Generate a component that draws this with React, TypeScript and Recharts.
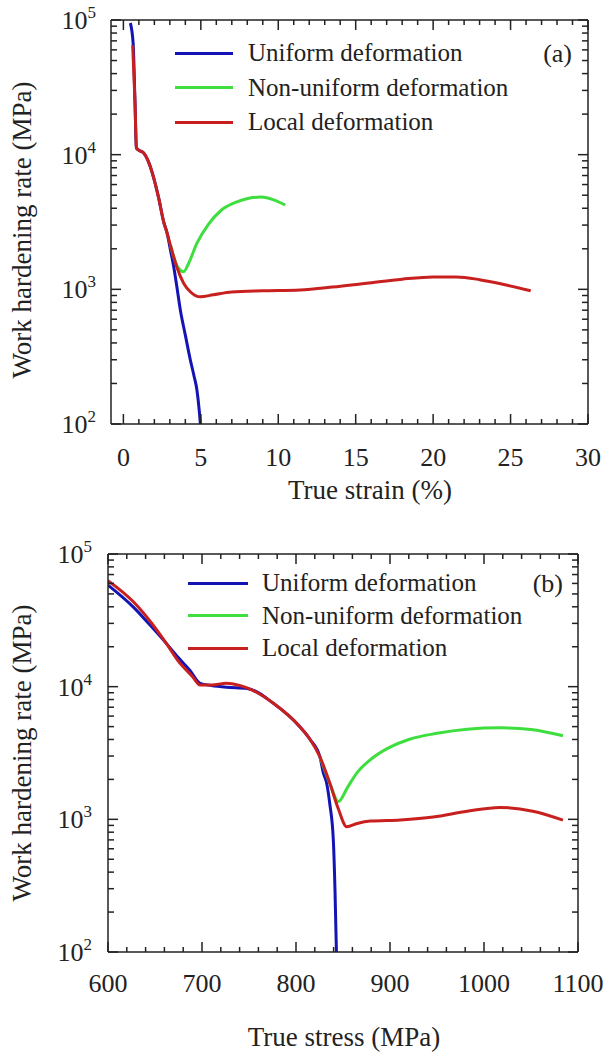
import {
  LineChart,
  Line,
  XAxis,
  YAxis,
  Legend,
  ReferenceLine,
  Customized,
} from 'recharts';

// ---- (a) work hardening rate vs true strain (%) ----
const uniStrainA = [0.45, 0.63, 0.75, 0.84, 0.99, 1.31, 1.63, 1.96, 2.28, 2.6, 2.82, 3.05, 3.25, 3.45, 3.68, 4.0, 4.32, 4.55, 4.75, 4.9, 4.97];
const uniRateA = [95000, 67000, 24500, 11200, 10800, 10300, 8800, 6700, 4750, 3170, 2620, 1930, 1470, 1050, 700, 457, 300, 230, 178, 125, 100];

const nonStrainA = [3.05, 3.25, 3.46, 3.7, 3.89, 4.2, 4.75, 5.5, 6.3, 7.2, 8.1, 8.9, 9.7, 10.45];
const nonRateA = [2100, 1740, 1500, 1380, 1350, 1550, 2200, 3050, 3850, 4400, 4750, 4840, 4620, 4230];

const locStrainA = [0.6, 0.75, 0.84, 0.99, 1.31, 1.63, 1.96, 2.28, 2.6, 2.82, 3.05, 3.25, 3.46, 3.89, 4.32, 4.97, 5.8, 7.0, 9.0, 11.4, 13.5, 15.7, 18.0, 20.0, 21.5, 23.0, 24.5, 26.3];
const locRateA = [65000, 24500, 11200, 10800, 10300, 8800, 6700, 4750, 3170, 2620, 2100, 1740, 1450, 1110, 960, 880, 910, 955, 975, 990, 1040, 1110, 1190, 1235, 1235, 1180, 1090, 975];

// ---- (b) work hardening rate vs true stress (MPa) ----
const uniStressB = [600, 627, 645, 662, 675, 687, 698, 710, 726, 748, 776, 804, 815, 825.5, 829, 832.6, 836, 839.7, 841.5, 843];
const uniRateB = [58300, 39800, 29000, 21200, 16500, 13300, 10600, 10200, 9900, 9700, 7480, 4990, 4000, 2950, 2250, 1870, 1300, 700, 290, 100];

const nonStressB = [825.5, 836, 845, 855, 865, 880, 900, 920, 950, 982, 1017, 1050, 1084];
const nonRateB = [2950, 1870, 1360, 1750, 2250, 2850, 3500, 4000, 4450, 4780, 4900, 4750, 4270];

const locStressB = [600, 627, 645, 662, 675, 690, 698, 710, 726, 740, 748, 776, 804, 815, 825.5, 836, 845, 854, 865, 879, 911, 946, 982, 1017, 1052, 1084];
const locRateB = [63000, 43600, 31000, 21200, 15500, 11900, 10300, 10300, 10600, 10200, 9800, 7500, 5000, 4000, 2950, 1870, 1200, 880, 930, 970, 990, 1040, 1150, 1230, 1150, 985];

// ---- ticks ----
const strainMajor = [0, 5, 10, 15, 20, 25, 30];
const strainTicks = Array.from({ length: 31 }, (_, i) => i);
const stressMajor = [600, 700, 800, 900, 1000, 1100];
const stressTicks = Array.from({ length: 26 }, (_, i) => 600 + i * 20);
const rateMajor = [100, 1000, 10000, 100000];
const rateTicks = [1, 2, 3, 4, 5, 6, 7, 8, 9]
  .flatMap((m) => [m * 100, m * 1000, m * 10000])
  .concat([100000])
  .sort((a, b) => a - b);

const seriesNames = ['Uniform deformation', 'Non-uniform deformation', 'Local deformation'];
const colors = ['#1414b4', '#3ede3e', '#c8201e'];

const FONT = "'Liberation Serif', 'Times New Roman', serif";

const zip = (xs: number[], ys: number[]) => xs.map((x, i) => ({ x, y: ys[i] }));

type Box = { left: number; right: number; top: number; bottom: number };

const makeXTick = (box: Box, majors: number[], labelOffset: number) => (props: any) => {
  const { x, payload } = props;
  const v = payload.value;
  const major = majors.includes(v);
  const len = major ? 10 : 5;
  return (
    <g>
      <line x1={x} x2={x} y1={box.bottom} y2={box.bottom - len} stroke="#222" strokeWidth={1.5} />
      <line x1={x} x2={x} y1={box.top} y2={box.top + len} stroke="#222" strokeWidth={1.5} />
      {major && (
        <text x={x} y={box.bottom + labelOffset} textAnchor="middle" dominantBaseline="central" fontSize={26} fontFamily={FONT} fill="#222">
          {v}
        </text>
      )}
    </g>
  );
};

const makeYTick = (box: Box, gap: number) => (props: any) => {
  const { y, payload } = props;
  const v = payload.value;
  const major = rateMajor.includes(v);
  const len = major ? 10 : 6;
  return (
    <g>
      <line x1={box.left} x2={box.left + len} y1={y} y2={y} stroke="#222" strokeWidth={1.5} />
      <line x1={box.right} x2={box.right - len} y1={y} y2={y} stroke="#222" strokeWidth={1.5} />
      {major && (
        <text x={box.left - gap} y={y + 9} textAnchor="end" fontSize={26} fontFamily={FONT} fill="#222">
          10
          <tspan dy={-11} fontSize={17}>{Math.round(Math.log10(v))}</tspan>
        </text>
      )}
    </g>
  );
};

// legend keeps the series order (Recharts sorts by name otherwise)
const makeLegend = (lineW: number, gap: number, rowH: number) => ({ payload }: any) => {
  const items = [...(payload || [])].sort(
    (a: any, b: any) => seriesNames.indexOf(a.value) - seriesNames.indexOf(b.value)
  );
  return (
    <div style={{ fontFamily: FONT, fontSize: 25, color: '#222' }}>
      {items.map((p: any) => (
        <div key={p.value} style={{ display: 'flex', alignItems: 'center', height: rowH, whiteSpace: 'nowrap' }}>
          <span style={{ display: 'inline-block', width: lineW, height: 3, background: p.color, marginRight: gap }} />
          {p.value}
        </div>
      ))}
    </div>
  );
};

type PanelProps = {
  width: number;
  height: number;
  box: Box;
  xDomain: [number, number];
  xTicks: number[];
  xMajor: number[];
  xLabelOffset: number;
  yGap: number;
  xTitle: string;
  xTitlePos: [number, number];
  yTitlePos: [number, number];
  tag: string;
  tagPos: [number, number];
  legendPos: { left: number; top: number; lineW: number; gap: number; rowH: number };
  series: { x: number; y: number }[][];
};

function Panel(p: PanelProps) {
  const { box } = p;
  const titles = () => (
    <g fontFamily={FONT} fill="#222">
      <text x={p.xTitlePos[0]} y={p.xTitlePos[1]} textAnchor="middle" dominantBaseline="central" fontSize={27}>
        {p.xTitle}
      </text>
      <text
        x={p.yTitlePos[0]}
        y={p.yTitlePos[1]}
        textAnchor="middle"
        dominantBaseline="central"
        fontSize={27}
        transform={`rotate(-90 ${p.yTitlePos[0]} ${p.yTitlePos[1]})`}
      >
        Work hardening rate (MPa)
      </text>
      <text x={p.tagPos[0]} y={p.tagPos[1]} textAnchor="end" dominantBaseline="central" fontSize={26}>
        {p.tag}
      </text>
    </g>
  );
  return (
    <LineChart
      width={p.width}
      height={p.height}
      margin={{ top: box.top, right: p.width - box.right, left: 0, bottom: 0 }}
    >
      <XAxis
        dataKey="x"
        type="number"
        domain={p.xDomain}
        ticks={p.xTicks}
        interval={0}
        allowDataOverflow
        height={p.height - box.bottom}
        tickLine={false}
        axisLine={{ stroke: '#222', strokeWidth: 1.5 }}
        tick={makeXTick(box, p.xMajor, p.xLabelOffset)}
      />
      <YAxis
        type="number"
        scale="log"
        domain={[100, 100000]}
        ticks={rateTicks}
        interval={0}
        allowDataOverflow
        width={box.left}
        tickLine={false}
        axisLine={{ stroke: '#222', strokeWidth: 1.5 }}
        tick={makeYTick(box, p.yGap)}
      />
      <ReferenceLine y={100000} stroke="#222" strokeWidth={1.5} />
      <ReferenceLine x={p.xDomain[1]} stroke="#222" strokeWidth={1.5} />
      {p.series.map((d, i) => (
        <Line
          key={seriesNames[i]}
          data={d}
          dataKey="y"
          name={seriesNames[i]}
          type="monotone"
          stroke={colors[i]}
          strokeWidth={3}
          dot={false}
          isAnimationActive={false}
        />
      ))}
      <Legend
        layout="vertical"
        align="center"
        verticalAlign="middle"
        content={makeLegend(p.legendPos.lineW, p.legendPos.gap, p.legendPos.rowH)}
        wrapperStyle={{ left: p.legendPos.left, top: p.legendPos.top, width: 'auto' }}
      />
      <Customized component={titles} />
    </LineChart>
  );
}

export default function App() {
  return (
    <div style={{ position: 'absolute', left: 0, top: 0, width: 606, height: 1052, background: '#fff' }}>
      <Panel
        width={606}
        height={510}
        box={{ left: 111, right: 588, top: 20, bottom: 424 }}
        xDomain={[-0.8, 30]}
        xTicks={strainTicks}
        xMajor={strainMajor}
        xLabelOffset={33}
        yGap={15}
        xTitle="True strain (%)"
        xTitlePos={[370, 490]}
        yTitlePos={[22, 230]}
        tag="(a)"
        tagPos={[572, 53]}
        legendPos={{ left: 175, top: 36, lineW: 58, gap: 15, rowH: 34.5 }}
        series={[zip(uniStrainA, uniRateA), zip(nonStrainA, nonRateA), zip(locStrainA, locRateA)]}
      />
      <Panel
        width={606}
        height={542}
        box={{ left: 108, right: 578, top: 44, bottom: 442 }}
        xDomain={[600, 1100]}
        xTicks={stressTicks}
        xMajor={stressMajor}
        xLabelOffset={31}
        yGap={16}
        xTitle="True stress (MPa)"
        xTitlePos={[344, 527]}
        yTitlePos={[22, 243]}
        tag="(b)"
        tagPos={[563, 73]}
        legendPos={{ left: 188, top: 57, lineW: 60, gap: 14, rowH: 32.5 }}
        series={[zip(uniStressB, uniRateB), zip(nonStressB, nonRateB), zip(locStressB, locRateB)]}
      />
    </div>
  );
}
